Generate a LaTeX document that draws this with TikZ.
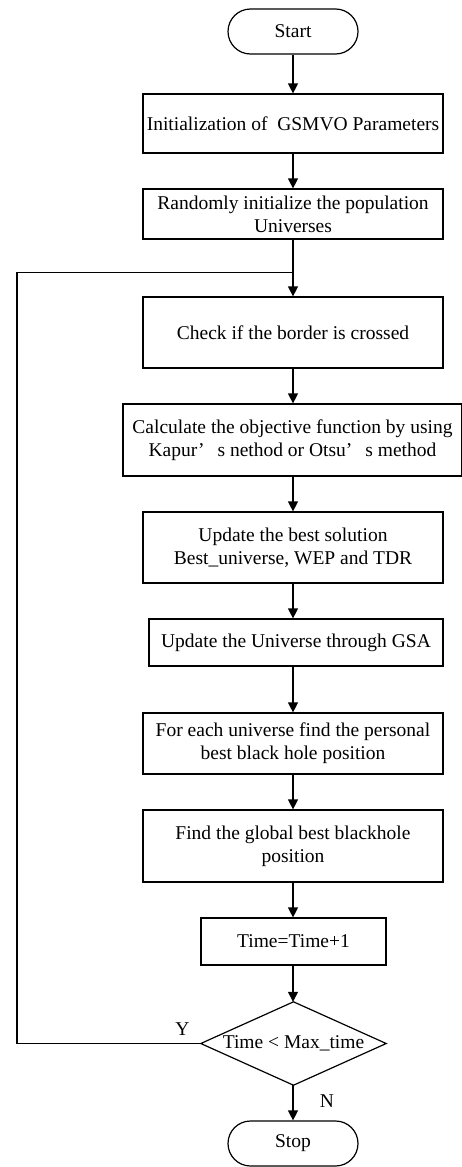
\documentclass[tikz,border=0pt]{standalone}
\usepackage{fontspec}
\setmainfont{Liberation Serif}
\usetikzlibrary{arrows.meta}

\begin{document}
\begin{tikzpicture}[x=1pt,y=-1pt,
  txt/.style={font=\fontsize{19.5}{23}\selectfont},
  base/.style={txt, draw, line width=1.2pt, inner sep=0pt, align=center},
  proc/.style={base, rectangle, minimum width=300pt},
  term/.style={base, rectangle, rounded corners=22.5pt, minimum width=130pt, minimum height=45pt},
  link/.style={line width=1.2pt, -{Triangle[width=10pt,length=10pt]}},
  wire/.style={line width=1.2pt},
  lbl/.style={txt, inner sep=0pt}
]
\useasboundingbox (0,0) rectangle (462,1167);

% process steps, top to bottom
\node[term] (start) at (293,31.5) {Start};
\node[proc, minimum height=59pt] (init) at (293,123.5) {Initialization of\ \ GSMVO Parameters};
\node[proc, minimum height=50pt] (rand) at (293,214) {Randomly initialize the population\\Universes};
\node[proc, minimum height=71pt] (check) at (293,332.5) {Check if the border is crossed};
\node[proc, minimum width=339pt, minimum height=72pt] (calc) at (292.5,440)
  {Calculate the objective function by using\\Kapur’\hspace{13pt}s nethod or Otsu’\hspace{13pt}s method};
\node[proc, minimum height=71pt] (upd) at (293,547.5) {Update the best solution\\Best\_universe, WEP and TDR};
\node[proc, minimum width=294pt, minimum height=47pt] (gsa) at (296,642.5) {Update the Universe through GSA};
\node[proc, minimum height=61pt] (pers) at (293,743.5) {For each universe find the personal\\best black hole position};
\node[proc, minimum height=72pt] (glob) at (293,846) {Find the global best blackhole\\position};
\node[proc, minimum width=185pt, minimum height=47pt] (inc) at (293.5,941.5) {Time=Time+1};

% decision diamond
\node[lbl, minimum width=185pt, minimum height=83pt] (dec) at (293.5,1043.5) {Time \textless{} Max\_time};
\draw[wire] (dec.north) -- (dec.east) -- (dec.south) -- (dec.west) -- cycle;

\node[term] (stop) at (293,1143.5) {Stop};

% connectors
\draw[link] (start.south) -- (init.north);
\draw[link] (init.south) -- (rand.north);
\draw[link] (rand.south) -- (check.north);
\draw[link] (check.south) -- (check.south |- calc.north);
\draw[link] (check.south |- calc.south) -- (upd.north);
\draw[link] (upd.south) -- (upd.south |- gsa.north);
\draw[link] (pers.north |- gsa.south) -- (pers.north);
\draw[link] (pers.south) -- (glob.north);
\draw[link] (glob.south) -- (glob.south |- inc.north);
\draw[link] (glob.south |- inc.south) -- (glob.south |- dec.north);
\draw[link] (glob.south |- dec.south) -- (stop.north);

% loop back on Y
\coordinate (loopL) at (17,272.7);
\draw[wire] (dec.west) -| (loopL) -- (rand.south |- loopL);

\node[lbl] (ylab) at (182.5,1029) {Y};
\node[lbl] (nlab) at (327,1101) {N};
\end{tikzpicture}
\end{document}
